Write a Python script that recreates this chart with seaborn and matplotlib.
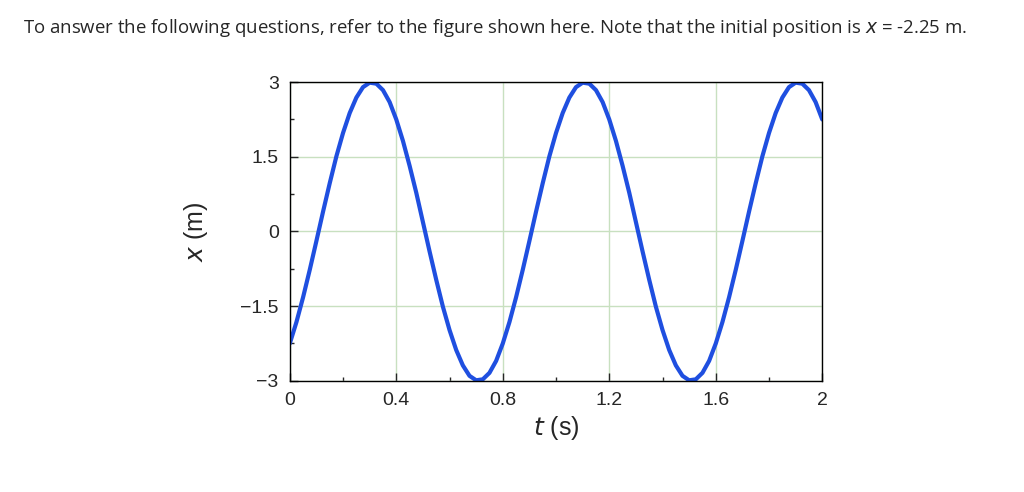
import matplotlib
matplotlib.use("Agg")
import matplotlib.pyplot as plt
import seaborn as sns
import pandas as pd

sns.set_style("white")
plt.rcParams['font.family'] = ['Liberation Sans', 'DejaVu Sans']

# one period of readings (0 to 0.775 s), repeated
period_x = [-2.25,-1.82,-1.32,-0.77,-0.19,0.40,0.97,1.51,1.98,2.38,2.69,2.90,2.99,2.97,2.84,2.60,
            2.25,1.82,1.32,0.78,0.19,-0.40,-0.97,-1.51,-1.98,-2.38,-2.69,-2.90,-2.99,-2.97,-2.84,-2.60]
x_vals = period_x + period_x + [-2.25,-1.82,-1.32,-0.77,-0.19,0.40,0.97,1.51,1.98,2.38,2.69,2.90,2.99,2.97,2.84,2.60,2.25]
t_vals = [round(i * 0.025, 3) for i in range(len(x_vals))]
xticks = [0, 0.4, 0.8, 1.2, 1.6, 2]
xticklabels = ["0", "0.4", "0.8", "1.2", "1.6", "2"]
yticks = [-3, -1.5, 0, 1.5, 3]
yticklabels = ["\u22123", "\u22121.5", "0", "1.5", "3"]

df = pd.DataFrame({"t": t_vals, "x": x_vals})

fig = plt.figure(figsize=(10.24, 4.92), dpi=100)
ax = fig.add_axes([0.283, 0.226, 0.520, 0.607])
sns.lineplot(data=df, x="t", y="x", ax=ax, color="#1f4fe0", linewidth=3)
ax.set_xlim(0, 2)
ax.set_ylim(-3, 3)
ax.set_xticks(xticks)
ax.set_xticklabels(xticklabels, fontsize=14)
ax.set_yticks(yticks)
ax.set_yticklabels(yticklabels, fontsize=14)
ax.set_xticks([0.2, 0.6, 1.0, 1.4, 1.8], minor=True)
ax.set_yticks([-2.25, -0.75, 0.75, 2.25], minor=True)
ax.tick_params(direction="in", length=6, width=1, which="major", left=True, bottom=True, pad=8)
ax.tick_params(direction="in", length=3, width=1, which="minor", left=True, bottom=True)
ax.grid(True, which="major", color="#c8e0c0", linewidth=1)
for s in ax.spines.values():
    s.set_color("black"); s.set_linewidth(1)
ax.set_xlabel("$t$ (s)", fontsize=18)
ax.set_ylabel("$x$ (m)", fontsize=18, labelpad=22)
fig.text(0.022, 0.943, "To answer the following questions, refer to the figure shown here. Note that the initial position is $x$ = -2.25 m.",
         fontsize=13.4, family=['Open Sans', 'DejaVu Sans'], va="center")
fig.savefig("out.png", dpi=100)
